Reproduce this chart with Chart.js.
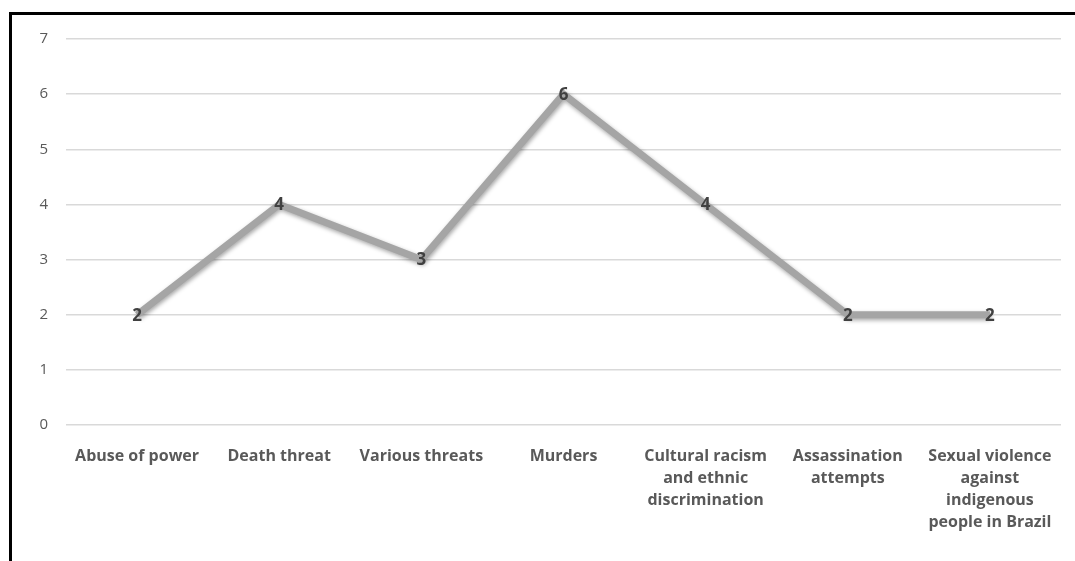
<!DOCTYPE html>
<html lang="en">
<head>
  <meta charset="UTF-8" />
  <title>Violence against indigenous people</title>
  <script src="https://cdn.jsdelivr.net/npm/chart.js"></script>
  <style>
    html, body {
      margin: 0;
      padding: 0;
      background: #fff;
    }
    .wrap {
      position: relative;
      width: 1075px;
      height: 561px;
    }
    .cadre {
      position: absolute;
      left: 9px;
      top: 12px;
      right: -5px;
      bottom: -5px;
      border-top: 3px solid #000;
      border-left: 3px solid #000;
      pointer-events: none;
    }
    canvas {
      position: absolute;
      left: 0;
      top: 0;
    }
  </style>
</head>
<body>
<div class="wrap">
  <canvas id="graphique" width="1075" height="561"></canvas>
  <div class="cadre"></div>
</div>

<script>
  const categories = [
    "Abuse of power",
    "Death threat",
    "Various threats",
    "Murders",
    ["Cultural racism", "and ethnic", "discrimination"],
    ["Assassination", "attempts"],
    ["Sexual violence", "against", "indigenous", "people in Brazil"]
  ];
  const valeurs = [2, 4, 3, 6, 4, 2, 2];
  const yMax = 7;

  const police = "'Open Sans', sans-serif";

  // ombre sous la ligne
  const ombre = {
    id: "ombre",
    beforeDatasetDraw(chart) {
      const c = chart.ctx;
      c.save();
      c.shadowColor = "rgba(0,0,0,0.35)";
      c.shadowBlur = 4;
      c.shadowOffsetX = 1;
      c.shadowOffsetY = 2;
    },
    afterDatasetDraw(chart) {
      chart.ctx.restore();
    }
  };

  // valeurs ecrites sur les points
  const etiquettes = {
    id: "etiquettes",
    afterDatasetsDraw(chart) {
      const c = chart.ctx;
      const meta = chart.getDatasetMeta(0);
      c.save();
      c.font = "bold 17px " + police;
      c.fillStyle = "#404040";
      c.textAlign = "center";
      c.textBaseline = "middle";
      meta.data.forEach((pt, i) => {
        c.fillText(String(valeurs[i]), pt.x, pt.y + 1);
      });
      c.restore();
    }
  };

  const ctx = document.getElementById("graphique").getContext("2d");
  new Chart(ctx, {
    type: "line",
    data: {
      labels: categories,
      datasets: [{
        data: valeurs,
        borderColor: "#a5a5a5",
        borderWidth: 7,
        pointRadius: 0,
        pointHoverRadius: 0,
        tension: 0,
        fill: false
      }]
    },
    options: {
      responsive: false,
      animation: false,
      events: [],
      layout: {
        padding: { left: 0, right: 14, top: 39, bottom: 0 }
      },
      plugins: {
        legend: { display: false },
        tooltip: { enabled: false },
        title: { display: false }
      },
      scales: {
        x: {
          offset: true,
          grid: { display: false, drawTicks: false },
          border: { display: false },
          ticks: {
            autoSkip: false,
            maxRotation: 0,
            minRotation: 0,
            padding: 20,
            color: "#595959",
            font: { family: police, size: 16, weight: "bold", lineHeight: 1.375 }
          },
          afterFit(scale) { scale.height = 136; }
        },
        y: {
          min: 0,
          max: yMax,
          grid: { color: "#d9d9d9", lineWidth: 1.5, drawTicks: false },
          border: { display: false },
          ticks: {
            stepSize: 1,
            padding: 18,
            color: "#595959",
            font: { family: police, size: 15 }
          },
          afterFit(scale) { scale.width = 66; }
        }
      }
    },
    plugins: [ombre, etiquettes]
  });
</script>
</body>
</html>
